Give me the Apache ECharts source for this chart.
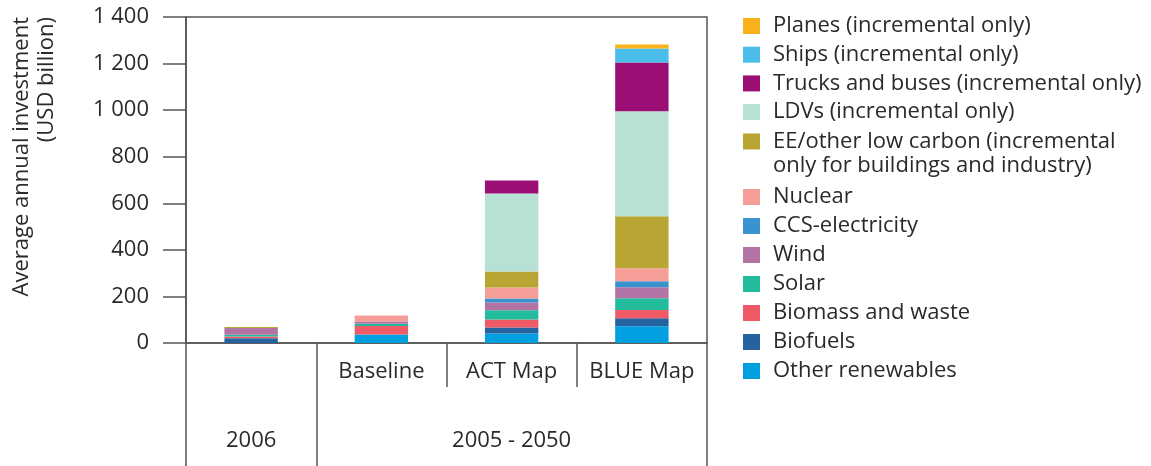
<!DOCTYPE html>
<html>
<head>
<meta charset="utf-8">
<script src="https://cdn.jsdelivr.net/npm/echarts@6/dist/echarts.min.js"></script>
<style>html,body{margin:0;padding:0;background:#fff}#c{width:1151px;height:466px}</style>
</head>
<body>
<div id="c"></div>
<script>
// ---- data ----
const categories = ['2006', 'Baseline', 'ACT Map', 'BLUE Map'];
const periodLabels = ['2006', '2005 - 2050'];
const yTicks = [0, 200, 400, 600, 800, 1000, 1200, 1400];
const seriesNames = ['Other renewables', 'Biofuels', 'Biomass and waste', 'Solar', 'Wind', 'CCS-electricity', 'Nuclear',
  'EE/other low carbon (incremental only for buildings and industry)', 'LDVs (incremental only)',
  'Trucks and buses (incremental only)', 'Ships (incremental only)', 'Planes (incremental only)'];
const otherRenewables = [0, 37, 41, 72];
const biofuels = [20, 0, 26, 34];
const biomassWaste = [8, 36, 34, 36];
const solar = [7, 10, 40, 50];
const wind = [29, 9, 33, 47];
const ccsElectricity = [0, 0, 17, 26];
const nuclear = [0, 26, 47, 56];
const eeOther = [5, 0, 69, 223];
const ldvs = [0, 0, 335, 451];
const trucksBuses = [0, 0, 56, 210];
const ships = [0, 0, 0, 60];
const planes = [0, 0, 0, 17];
const seriesValues = [otherRenewables, biofuels, biomassWaste, solar, wind, ccsElectricity, nuclear, eeOther, ldvs, trucksBuses, ships, planes];
const colors = ['#00A0E1', '#2562A0', '#F05A67', '#22BB9B', '#B373A4', '#3A92CF', '#F59E97', '#B9A534', '#B7E1D4', '#9B0E74', '#4BBDEB', '#F9B11C'];

// ---- chart ----
const FONT = '"Open Sans", "Noto Sans", sans-serif';
const TXT = '#2a2a2a';
const LINE = '#555';
const FS = 22;
const chart = echarts.init(document.getElementById('c'), null, {renderer: 'canvas'});

const fmtThousands = v => String(v).replace(/\B(?=(\d{3})+(?!\d))/g, ' ');

const legendNamesTop = seriesNames.slice(8).reverse();   // Planes..LDVs
const legendNameEE = [seriesNames[7]];
const legendNamesBottom = seriesNames.slice(0, 7).reverse(); // Nuclear..Other

const legendBase = {
  orient: 'vertical', left: 743, padding: 0, itemWidth: 17, itemHeight: 16,
  icon: 'rect', selectedMode: false,
  textStyle: {fontFamily: FONT, fontSize: FS, color: TXT, lineHeight: 24, padding: [0, 0, 0, 8]}
};

const option = {
  animation: false,
  color: colors,
  grid: {left: 186, right: 444, top: 17, bottom: 123, show: true, borderColor: LINE, borderWidth: 1.5, backgroundColor: 'transparent'},
  legend: [
    Object.assign({}, legendBase, {top: 14, itemGap: 4.7, data: legendNamesTop}),
    Object.assign({}, legendBase, {top: 130, itemHeight: 41, icon: 'path://M0,0h17v16h-17zM0,41h17',
      data: legendNameEE, formatter: n => n.replace('(incremental ', '(incremental\n')}),
    Object.assign({}, legendBase, {top: 185, itemGap: 5, data: legendNamesBottom})
  ],
  xAxis: [
    {
      type: 'category', data: categories, position: 'bottom', gridIndex: 0,
      axisLine: {show: true, lineStyle: {color: LINE, width: 1.5}},
      axisTick: {show: true, interval: 0, length: 44, lineStyle: {color: LINE, width: 1.5}},
      axisLabel: {interval: 0, margin: 18, fontFamily: FONT, fontSize: FS, color: TXT,
        formatter: (v, i) => i === 0 ? '' : v}
    },
    {
      type: 'value', min: 0, max: 4, position: 'bottom', offset: 44, gridIndex: 0,
      axisLine: {show: false},
      splitLine: {show: false},
      axisTick: {show: true, length: 79, customValues: [0, 1, 4], lineStyle: {color: LINE, width: 1.5}},
      axisLabel: {margin: 43, fontFamily: FONT, fontSize: FS, color: TXT, customValues: [0.5, 2.5],
        formatter: v => v < 1 ? periodLabels[0] : periodLabels[1]}
    }
  ],
  yAxis: {
    type: 'value', min: yTicks[0], max: yTicks[yTicks.length - 1], interval: yTicks[1] - yTicks[0],
    axisLine: {show: true, lineStyle: {color: LINE, width: 1.5}},
    axisTick: {show: true, length: 23, lineStyle: {color: LINE, width: 1.5}},
    splitLine: {show: false},
    axisLabel: {margin: 37, fontFamily: FONT, fontSize: FS, color: TXT, formatter: v => fmtThousands(v)}
  },
  graphic: [{
    type: 'text', x: 9, y: 17, rotation: Math.PI / 2,
    style: {text: 'Average annual investment\n(USD billion)', font: FS + 'px ' + FONT, fill: TXT,
      align: 'right', verticalAlign: 'top', textAlign: 'right', textVerticalAlign: 'top', lineHeight: 25}
  }],
  series: seriesNames.map((name, i) => ({
    name, type: 'bar', stack: 'total', barWidth: '41%', xAxisIndex: 0,
    data: seriesValues[i], itemStyle: {color: colors[i]}
  }))
};
chart.setOption(option);
</script>
</body>
</html>
